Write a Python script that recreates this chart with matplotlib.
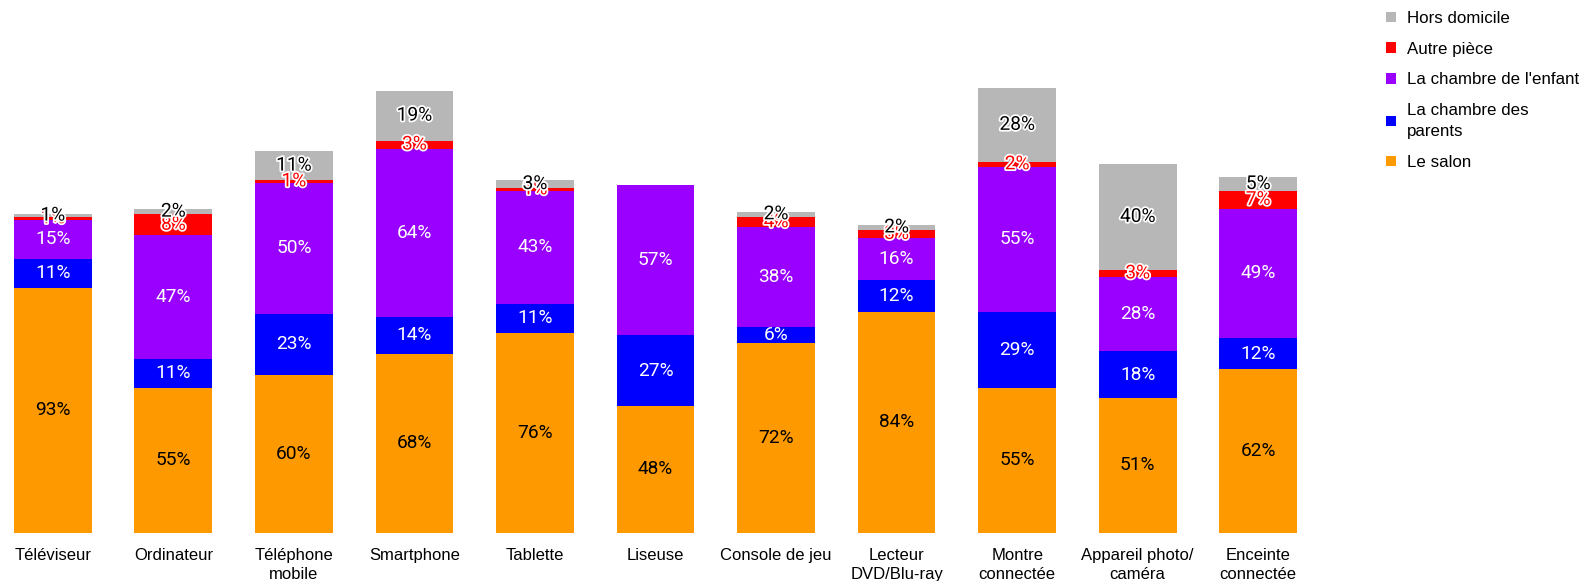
import matplotlib
matplotlib.use("Agg")
import matplotlib.pyplot as plt
import matplotlib.patheffects as pe
import numpy as np

categories = ["Téléviseur", "Ordinateur", "Téléphone\nmobile", "Smartphone", "Tablette",
              "Liseuse", "Console de jeu", "Lecteur\nDVD/Blu-ray", "Montre\nconnectée",
              "Appareil photo/\ncaméra", "Enceinte\nconnectée"]
salon   = [93, 55, 60, 68, 76, 48, 72, 84, 55, 51, 62]
parents = [11, 11, 23, 14, 11, 27, 6, 12, 29, 18, 12]
enfant  = [15, 47, 50, 64, 43, 57, 38, 16, 55, 28, 49]
autre   = [1, 8, 1, 3, 1, 0, 4, 3, 2, 3, 7]
hors    = [1, 2, 11, 19, 3, 0, 2, 2, 28, 40, 5]

series = [
    ("Le salon", salon, "#FF9900", "black", None),
    ("La chambre des\nparents", parents, "#0000FF", "white", None),
    ("La chambre de l'enfant", enfant, "#9900FF", "white", None),
    ("Autre pièce", autre, "#FF0000", "#FF0000", "white"),
    ("Hors domicile", hors, "#B7B7B7", "black", "white"),
]

W, H = 1584, 581
fig = plt.figure(figsize=(W / 100, H / 100), dpi=100)
ax = fig.add_axes([13 / W, (581 - 532.5) / H, (1298 - 13) / W, 526 / H])

x = np.arange(len(categories))
bw = 0.645
bottom = np.zeros(len(categories))
handles = []
for name, vals, color, tcol, stroke in series:
    vals = np.array(vals, dtype=float)
    b = ax.bar(x, vals, bw, bottom=bottom, color=color, label=name, linewidth=0)
    handles.append(b)
    for xi, v, bo in zip(x, vals, bottom):
        if v <= 0:
            continue
        t = ax.text(xi, bo + v / 2, f"{v:.0f}%", ha="center", va="center",
                    color=tcol, fontsize=13.8, family="Roboto")
        if stroke:
            t.set_path_effects([pe.withStroke(linewidth=2.5, foreground=stroke)])
    bottom += vals

ax.set_xlim(-0.33, 10.33)
ax.set_ylim(0, 200)
ax.set_xticks(x)
ax.set_xticklabels(categories, fontsize=12, family="Liberation Sans", linespacing=1.27)
ax.tick_params(axis="x", length=0, pad=11.5)
ax.set_yticks([])
for s in ax.spines.values():
    s.set_visible(False)

leg = fig.legend(handles[::-1], [s[0] for s in series][::-1], loc="upper left",
                 bbox_to_anchor=(1386 / W, 1 - 11 / H), frameon=False,
                 prop={"family": "Liberation Sans", "size": 12.2},
                 handlelength=0.6, handleheight=0.6, handletextpad=0.62,
                 labelspacing=0.92, borderpad=0, borderaxespad=0)
for t in leg.get_texts():
    t.set_linespacing(1.55)

fig.savefig("out.png", dpi=100)
